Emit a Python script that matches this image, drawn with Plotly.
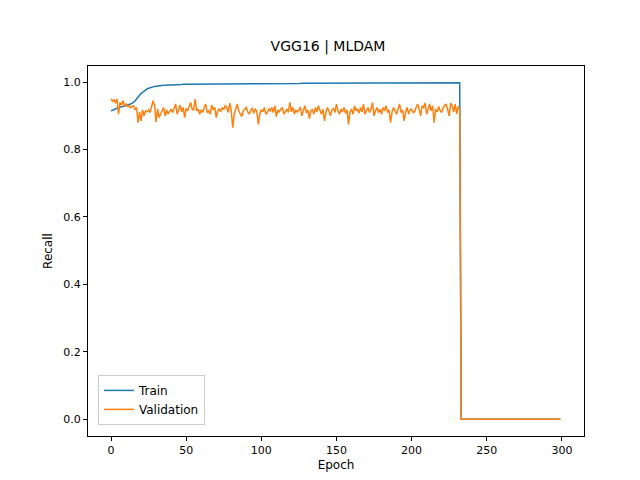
import plotly.graph_objects as go

# recall per epoch
train = [
    0.915, 0.916, 0.918, 0.921, 0.923, 0.925, 0.926, 0.927, 0.928, 0.929,
    0.930, 0.931, 0.933, 0.935, 0.937, 0.940, 0.944, 0.950, 0.956, 0.961,
    0.966, 0.970, 0.974, 0.977, 0.980, 0.982, 0.984, 0.985, 0.986, 0.987,
    0.988, 0.989, 0.989, 0.990, 0.990, 0.991, 0.991, 0.991, 0.992, 0.992,
    0.992, 0.992, 0.993, 0.993, 0.993, 0.993, 0.993, 0.993, 0.994, 0.994,
    0.994, 0.994, 0.994, 0.994, 0.994, 0.994, 0.994, 0.995, 0.995, 0.995,
    0.995, 0.995, 0.995, 0.995, 0.995, 0.995, 0.995, 0.995, 0.995, 0.995,
    0.995, 0.995, 0.995, 0.995, 0.995, 0.995, 0.995, 0.995, 0.995, 0.995,
    0.995, 0.995, 0.995, 0.995, 0.996, 0.996, 0.996, 0.996, 0.996, 0.996,
    0.996, 0.996, 0.996, 0.996, 0.996, 0.996, 0.996, 0.996, 0.996, 0.996,
    0.996, 0.996, 0.996, 0.996, 0.996, 0.996, 0.996, 0.996, 0.996, 0.996,
    0.996, 0.996, 0.996, 0.996, 0.996, 0.996, 0.996, 0.996, 0.996, 0.996,
    0.996, 0.996, 0.996, 0.996, 0.996, 0.996, 0.996, 0.997, 0.997, 0.997,
    0.997, 0.997, 0.997, 0.997, 0.997, 0.997, 0.997, 0.997, 0.997, 0.997,
    0.997, 0.997, 0.997, 0.997, 0.997, 0.997, 0.997, 0.997, 0.997, 0.997,
    0.997, 0.997, 0.997, 0.997, 0.997, 0.997, 0.997, 0.997, 0.997, 0.997,
    0.997, 0.997, 0.997, 0.997, 0.997, 0.997, 0.997, 0.997, 0.997, 0.997,
    0.997, 0.997, 0.997, 0.997, 0.997, 0.997, 0.997, 0.997, 0.997, 0.997,
    0.997, 0.997, 0.997, 0.997, 0.997, 0.997, 0.997, 0.997, 0.997, 0.998,
    0.998, 0.998, 0.998, 0.998, 0.998, 0.998, 0.998, 0.998, 0.998, 0.998,
    0.998, 0.998, 0.998, 0.998, 0.998, 0.998, 0.998, 0.998, 0.998, 0.998,
    0.998, 0.998, 0.998, 0.998, 0.998, 0.998, 0.998, 0.998, 0.998, 0.998,
    0.998, 0.998, 0.998, 0.998, 0.998, 0.998, 0.998, 0.998, 0.998, 0.998,
    0.998, 0.998, 0.998,
    0.0, 0.0, 0.0, 0.0, 0.0, 0.0, 0.0, 0.0, 0.0, 0.0,
    0.0, 0.0, 0.0, 0.0, 0.0, 0.0, 0.0, 0.0, 0.0, 0.0,
    0.0, 0.0, 0.0, 0.0, 0.0, 0.0, 0.0, 0.0, 0.0, 0.0,
    0.0, 0.0, 0.0, 0.0, 0.0, 0.0, 0.0, 0.0, 0.0, 0.0,
    0.0, 0.0, 0.0, 0.0, 0.0, 0.0, 0.0, 0.0, 0.0, 0.0,
    0.0, 0.0, 0.0, 0.0, 0.0, 0.0, 0.0, 0.0, 0.0, 0.0,
    0.0, 0.0, 0.0, 0.0, 0.0, 0.0, 0.0,
]

validation = [
    0.950, 0.944, 0.948, 0.938, 0.950, 0.905, 0.940, 0.932, 0.945, 0.930,
    0.935, 0.928, 0.930, 0.924, 0.928, 0.930, 0.918, 0.925, 0.880, 0.912,
    0.885, 0.918, 0.900, 0.915, 0.912, 0.918, 0.910, 0.928, 0.945, 0.930,
    0.882, 0.920, 0.895, 0.905, 0.915, 0.925, 0.900, 0.918, 0.905, 0.915,
    0.920, 0.910, 0.926, 0.935, 0.905, 0.918, 0.932, 0.912, 0.925, 0.895,
    0.922, 0.915, 0.930, 0.940, 0.920, 0.918, 0.950, 0.915, 0.920, 0.905,
    0.918, 0.910, 0.925, 0.935, 0.910, 0.915, 0.905, 0.932, 0.918, 0.925,
    0.895, 0.915, 0.920, 0.912, 0.925, 0.918, 0.930, 0.925, 0.910, 0.938,
    0.915, 0.865, 0.905, 0.920, 0.935, 0.915, 0.905, 0.898, 0.915, 0.920,
    0.925, 0.912, 0.905, 0.918, 0.922, 0.908, 0.920, 0.915, 0.875, 0.905,
    0.918, 0.912, 0.925, 0.905, 0.910, 0.920, 0.915, 0.925, 0.910, 0.930,
    0.898, 0.918, 0.912, 0.920, 0.925, 0.905, 0.915, 0.920, 0.910, 0.940,
    0.912, 0.925, 0.905, 0.918, 0.910, 0.920, 0.926, 0.900, 0.915, 0.930,
    0.908, 0.918, 0.892, 0.915, 0.920, 0.905, 0.925, 0.912, 0.930, 0.915,
    0.905, 0.920, 0.885, 0.910, 0.925, 0.915, 0.900, 0.918, 0.922, 0.910,
    0.935, 0.915, 0.905, 0.920, 0.912, 0.925, 0.908, 0.918, 0.875, 0.912,
    0.920, 0.905, 0.930, 0.915, 0.920, 0.908, 0.925, 0.912, 0.935, 0.905,
    0.918, 0.925, 0.910, 0.920, 0.940, 0.900, 0.915, 0.925, 0.910, 0.920,
    0.905, 0.925, 0.915, 0.930, 0.910, 0.918, 0.880, 0.912, 0.925, 0.915,
    0.905, 0.920, 0.935, 0.910, 0.918, 0.885, 0.912, 0.925, 0.905, 0.918,
    0.920, 0.910, 0.912, 0.925, 0.935, 0.920, 0.900, 0.930, 0.925, 0.938,
    0.905, 0.920, 0.935, 0.915, 0.930, 0.880, 0.920, 0.912, 0.928, 0.915,
    0.910, 0.925, 0.930, 0.935, 0.918, 0.900, 0.938, 0.930, 0.912, 0.935,
    0.905, 0.928, 0.920,
    0.0, 0.0, 0.0, 0.0, 0.0, 0.0, 0.0, 0.0, 0.0, 0.0,
    0.0, 0.0, 0.0, 0.0, 0.0, 0.0, 0.0, 0.0, 0.0, 0.0,
    0.0, 0.0, 0.0, 0.0, 0.0, 0.0, 0.0, 0.0, 0.0, 0.0,
    0.0, 0.0, 0.0, 0.0, 0.0, 0.0, 0.0, 0.0, 0.0, 0.0,
    0.0, 0.0, 0.0, 0.0, 0.0, 0.0, 0.0, 0.0, 0.0, 0.0,
    0.0, 0.0, 0.0, 0.0, 0.0, 0.0, 0.0, 0.0, 0.0, 0.0,
    0.0, 0.0, 0.0, 0.0, 0.0, 0.0, 0.0,
]

epochs = list(range(len(train)))

fig = go.Figure()
fig.add_trace(go.Scatter(x=epochs, y=train, mode="lines", name="Train",
                         line=dict(color="#1f77b4", width=1.5)))
fig.add_trace(go.Scatter(x=list(range(len(validation))), y=validation, mode="lines",
                         name="Validation", line=dict(color="#ff7f0e", width=1.5)))

axis_style = dict(showline=True, linecolor="black", mirror=True, ticks="outside",
                  tickcolor="black", ticklen=4, showgrid=False, zeroline=False,
                  automargin=False, tickfont=dict(size=11, color="black"))

fig.update_layout(
    width=640, height=480,
    font=dict(family="DejaVu Sans", color="black"),
    title=dict(text="VGG16 | MLDAM", x=0.5, xanchor="center", y=0.93,
               font=dict(size=14)),
    plot_bgcolor="white", paper_bgcolor="white",
    margin=dict(l=80, r=64, t=58, b=52),
    xaxis=dict(title=dict(text="Epoch", font=dict(size=12), standoff=4),
               range=[-15.3, 314.7], tickvals=[0, 50, 100, 150, 200, 250, 300], **axis_style),
    yaxis=dict(title=dict(text="Recall", font=dict(size=12), standoff=8),
               range=[-0.05, 1.048], tickvals=[0, 0.2, 0.4, 0.6, 0.8, 1.0],
               tickformat=".1f", **axis_style),
    legend=dict(x=0.02, y=0.03, xanchor="left", yanchor="bottom",
                bordercolor="#cccccc", borderwidth=1, bgcolor="white",
                font=dict(size=12)),
    showlegend=True,
)

fig.write_html("out.html")
